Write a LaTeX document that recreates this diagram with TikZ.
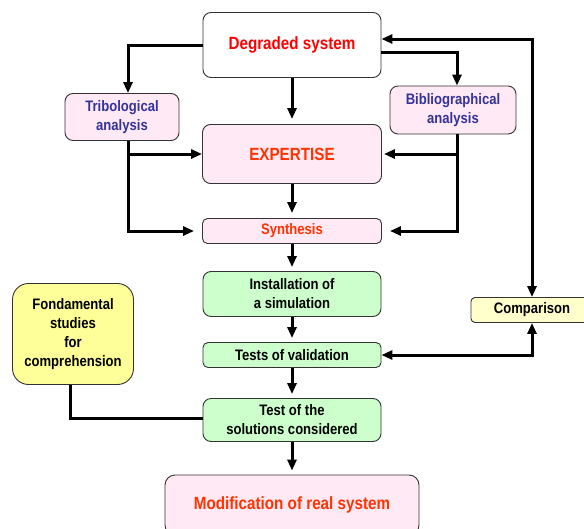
\documentclass[tikz,border=0pt]{standalone}
\usepackage{fontspec}
\setmainfont{Liberation Sans}[FakeStretch=0.86]
\usetikzlibrary{arrows.meta}
\definecolor{redtxt}{HTML}{FF0000}
\definecolor{orangetxt}{HTML}{FF3300}
\definecolor{bluetxt}{HTML}{333399}
\definecolor{pinkfill}{HTML}{FFE9F5}
\definecolor{greenfill}{HTML}{CCFFCC}
\definecolor{yellowfill}{HTML}{FFFF99}
\definecolor{paleyellow}{HTML}{FFFFCC}
\definecolor{border}{HTML}{333333}
\newcommand{\bigtxt}{\fontsize{17.7}{21}\selectfont\bfseries}
\newcommand{\smalltxt}{\fontsize{15.2}{19}\selectfont\bfseries}

\begin{document}
\begin{tikzpicture}[x=1pt, y=-1pt, box/.style = {shape=rectangle, draw=border, line width=0.9pt, rounded corners=8pt, align=center, inner sep=0pt}, pinkbox/.style = {box, fill=pinkfill}, greenbox/.style = {box, fill=greenfill, text=black, font=\smalltxt}, arr/.style = {line width=3pt, -{Triangle[length=11pt, width=9pt]}}, twoarr/.style = {line width=3pt, {Triangle[length=11pt, width=9pt]}-{Triangle[length=11pt, width=9pt]}}, link/.style = {line width=3pt}]
	\useasboundingbox (0,0) rectangle (584,528);
	% top part
	\node[box, fill=white, text=redtxt, font=\bigtxt, minimum width=178pt, minimum height=65pt] (degraded) at (292,45) {Degraded system};
	\node[pinkbox, text=bluetxt, font=\smalltxt, minimum width=114pt, minimum height=47pt] (tribo) at (122,117) {Tribological\\analysis};
	\node[pinkbox, text=bluetxt, font=\smalltxt, minimum width=126pt, minimum height=48pt] (biblio) at (453,110) {Bibliographical\\analysis};
	\node[pinkbox, text=orangetxt, font=\bigtxt, minimum width=179pt, minimum height=59pt] (expertise) at (292,154) {EXPERTISE};
	\node[pinkbox, rounded corners=5pt, text=orangetxt, font=\smalltxt, minimum width=179pt, minimum height=25pt] (synthesis) at (292,231) {Synthesis};
	% simulation chain
	\node[greenbox, minimum width=178pt, minimum height=45pt] (install) at (292,294) {Installation of\\a simulation};
	\node[greenbox, rounded corners=5pt, minimum width=178pt, minimum height=25pt] (validation) at (292,355) {Tests of validation};
	\node[greenbox, minimum width=178pt, minimum height=43pt] (solutions) at (292,420) {Test of the\\solutions considered};
	\node[pinkbox, rounded corners=10pt, text=orangetxt, font=\bigtxt, minimum width=254pt, minimum height=60pt] (modif) at (292,505) {Modification of real system};
	% side boxes
	\node[box, rounded corners=16pt, fill=yellowfill, font=\smalltxt, minimum width=121pt, minimum height=101pt] (fond) at (73,334) {Fondamental\\studies\\for\\comprehension};
	\node[box, rounded corners=4pt, fill=paleyellow, font=\smalltxt, minimum width=122pt, minimum height=25pt] (compar) at (532,310) {Comparison};

	\draw[arr] (degraded.west) -| ([xshift=6]tribo.north);
	\draw[arr] ([yshift=-7]degraded.east) -| ([xshift=4]biblio.north);
	\draw[arr, shorten >=5pt] (degraded) -- (expertise);
	\draw[arr, shorten >=8pt] ([xshift=6]tribo.south) |- (synthesis.west);
	\draw[arr] ([xshift=6]tribo.south |- expertise.west) -- (expertise.west);
	\draw[arr, shorten >=8pt] ([xshift=4]biblio.south) |- (synthesis.east);
	\draw[arr, shorten >=2pt] ([xshift=4]biblio.south |- expertise.east) -- (expertise.east);
	\draw[arr, shorten >=5pt] (expertise) -- (synthesis);
	\draw[arr, shorten >=4pt] (synthesis) -- (install);
	\draw[arr, shorten >=4pt] (install) -- (validation);
	\draw[arr, shorten >=4pt] (validation) -- (solutions);
	\draw[arr, shorten >=4pt] (solutions) -- (modif);
	% feedback loop through the comparison
	\draw[twoarr] ([yshift=6]degraded.east) -| (compar.north);
	\draw[twoarr] (validation.east) -| (compar.south);
	\draw[link] ([xshift=-3]fond.south) |- ([yshift=2]solutions.west);
\end{tikzpicture}
\end{document}
